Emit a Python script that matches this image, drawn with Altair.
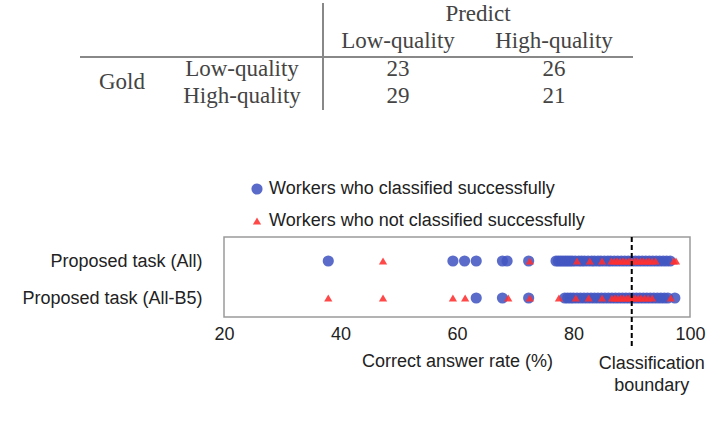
import altair as alt
import pandas as pd

# ---------------- data ----------------
pred_labels = ["Low-quality", "High-quality"]
gold_labels = ["Low-quality", "High-quality"]
confusion = [[23, 26], [29, 21]]

tasks = ["Proposed task (All)", "Proposed task (All-B5)"]
types = ["Workers who classified successfully", "Workers who not classified successfully"]

all_success = [37.9, 59.3, 61.3, 63.3, 67.8, 68.6, 72.3,
               77.0, 77.4, 77.8, 78.2, 78.6, 79.0, 79.4, 79.8, 80.3, 80.9, 81.4, 81.9,
               82.5, 83.1, 83.6, 84.2, 84.7, 85.3, 85.9, 86.4, 87.0, 87.6, 88.2, 88.8,
               89.4, 90.0, 90.6, 91.2, 91.8, 92.4, 93.0, 93.6, 94.2, 94.8, 95.4, 96.0, 96.6]
all_fail = [47.3, 72.5, 80.6, 82.8, 84.9, 86.5, 87.0, 87.5, 88.0, 88.5, 89.0, 89.5,
            90.0, 90.5, 91.0, 91.5, 92.0, 92.5, 93.0, 93.5, 94.1, 97.2, 97.6]
b5_success = [63.3, 67.8, 72.3,
              78.5, 79.0, 79.5, 80.0, 80.6, 81.2, 81.8, 82.4, 83.0, 83.6, 84.2, 84.8,
              85.4, 86.0, 86.6, 87.2, 87.8, 88.4, 89.0, 89.6, 90.2, 90.8, 91.4, 92.0,
              92.6, 93.2, 93.8, 94.4, 95.0, 95.6, 96.2, 97.4]
b5_fail = [37.9, 47.3, 59.3, 61.4, 68.8, 72.5, 77.5, 80.4, 82.6, 84.9, 86.6, 87.1,
           87.6, 88.1, 88.6, 89.1, 89.6, 90.1, 90.6, 91.1, 91.6, 92.2, 92.8, 93.5, 96.7]

boundary = 90
x_ticks = [20, 40, 60, 80, 100]

# ---------------- tables ----------------
rows = []
for v in all_success:
    rows.append({"task": tasks[0], "rate": v, "type": types[0]})
for v in b5_success:
    rows.append({"task": tasks[1], "rate": v, "type": types[0]})
for v in all_fail:
    rows.append({"task": tasks[0], "rate": v, "type": types[1]})
for v in b5_fail:
    rows.append({"task": tasks[1], "rate": v, "type": types[1]})
pts = pd.DataFrame(rows)

cells = pd.DataFrame([{"gold": g, "pred": p, "n": confusion[i][j]}
                      for i, g in enumerate(gold_labels) for j, p in enumerate(pred_labels)])

SANS = "Liberation Sans"
SERIF = "Liberation Serif"
TXT = "#222222"
TBL = "#444444"

legend = alt.Legend(title=None, orient="none", legendX=24, legendY=-57,
                    labelFontSize=18, labelFont=SANS, labelColor=TXT, rowPadding=14,
                    labelOffset=3, symbolOpacity=0.88, padding=0, labelLimit=600)

points = alt.Chart(pts).mark_point(filled=True, opacity=0.88).encode(
    x=alt.X("rate:Q", scale=alt.Scale(domain=[20, 100], nice=False, zero=False),
            axis=alt.Axis(values=x_ticks, title="Correct answer rate (%)", ticks=False,
                          domain=False, grid=False, labelFontSize=18, titleFontSize=18,
                          titleFontWeight="normal", labelPadding=8, titlePadding=9,
                          labelFlush=False,
                          labelColor=TXT, titleColor=TXT, labelFont=SANS, titleFont=SANS)),
    y=alt.Y("task:N", scale=alt.Scale(type="point", domain=tasks, range=[24, 61], padding=0),
            axis=alt.Axis(title=None, ticks=False, domain=False, grid=False, labelPadding=22,
                          labelFontSize=18, labelFont=SANS, labelColor=TXT, labelLimit=400)),
    color=alt.Color("type:N", scale=alt.Scale(domain=types, range=["#4356c2", "#ff3030"]),
                    legend=legend),
    shape=alt.Shape("type:N", scale=alt.Scale(domain=types, range=["circle", "triangle-up"]),
                    legend=legend),
    size=alt.Size("type:N", scale=alt.Scale(domain=types, range=[125, 68]), legend=legend),
)

bdf = pd.DataFrame({"rate": [boundary]})
rule = alt.Chart(bdf).mark_rule(color="black", strokeDash=[5, 3], strokeWidth=2).encode(
    x="rate:Q", y=alt.value(0), y2=alt.value(110))
btext = alt.Chart(bdf).mark_text(fontSize=18, font=SANS, baseline="top", align="center",
                                 dx=20, lineHeight=22, color=TXT).encode(
    x="rate:Q", y=alt.value(118), text=alt.value(["Classification", "boundary"]))

plot = alt.layer(points, rule, btext)

# ---- confusion table ----
xs = alt.X("pred:N", scale=alt.Scale(type="point", domain=pred_labels, range=[174, 330], padding=0),
           axis=None)
ys = alt.Y("gold:N", scale=alt.Scale(type="point", domain=gold_labels, range=[-168, -141.5], padding=0),
           axis=None)

tstyle = dict(font=SERIF, fontSize=23, color=TBL, baseline="middle", align="center")

cell_text = alt.Chart(cells).mark_text(**tstyle).encode(x=xs, y=ys, text="n:Q")
col_head = alt.Chart(pd.DataFrame({"pred": pred_labels})).mark_text(**tstyle).encode(
    x=xs, y=alt.value(-196.5), text="pred:N")
row_head = alt.Chart(pd.DataFrame({"gold": gold_labels})).mark_text(**tstyle).encode(
    y=ys, x=alt.value(18), text="gold:N")
gold_t = alt.Chart(pd.DataFrame({"t": ["Gold"]})).mark_text(**tstyle).encode(
    x=alt.value(-102), y=alt.value(-155), text="t:N")
pred_t = alt.Chart(pd.DataFrame({"t": ["Predict"]})).mark_text(**tstyle).encode(
    x=alt.value(254), y=alt.value(-223.5), text="t:N")
dummy = pd.DataFrame({"d": [0]})
hline = alt.Chart(dummy).mark_rule(color="#888888", strokeWidth=2).encode(
    x=alt.value(-144), x2=alt.value(409), y=alt.value(-180))
vline = alt.Chart(dummy).mark_rule(color="#888888", strokeWidth=2).encode(
    x=alt.value(99), y=alt.value(-234), y2=alt.value(-127))

table = alt.layer(hline, vline, cell_text, col_head, row_head, gold_t, pred_t)

chart = alt.layer(plot, table).resolve_scale(x="independent", y="independent").properties(
    width=466, height=80,
    autosize=alt.AutoSizeParams(type="none"),
    padding={"left": 224, "top": 237, "right": 28, "bottom": 109},
    background="white",
).configure_view(stroke="#9a9a9a", strokeWidth=1.5)

chart.save("out.html", embed_options={"renderer": "svg", "actions": False})
